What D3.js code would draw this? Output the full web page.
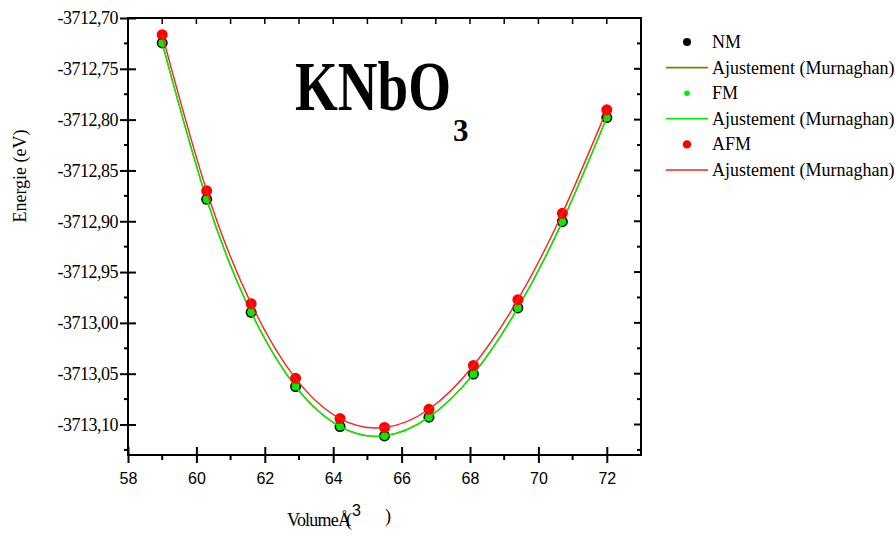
<!DOCTYPE html>
<html lang="fr">
  <head>
    <meta charset="utf-8" />
    <title>KNbO3 - Energie vs Volume</title>
    <script type="text/javascript" src="https://d3js.org/d3.v7.min.js"></script>
    <style>
      body { margin: 0; background: #fff; }
      svg { display: block; }
    </style>
  </head>

  <body>
    <div id="chart"></div>

    <script type="text/javascript">
      const w = 896;
      const h = 536;

      // volumes (A^3)
      const volumes = [59.0, 60.3, 61.6, 62.9, 64.2, 65.5, 66.8, 68.1, 69.4, 70.7, 72.0];
      // energies (eV)
      const nmEnergy = [-3712.7245, -3712.8784, -3712.9896, -3713.0627, -3713.1020, -3713.1112,
        -3713.0928, -3713.0504, -3712.9853, -3712.9004, -3712.7980];
      const fmEnergy = [-3712.7245, -3712.8784, -3712.9896, -3713.0627, -3713.1020, -3713.1112,
        -3713.0928, -3713.0504, -3712.9853, -3712.9004, -3712.7980];
      const afmEnergy = [-3712.7164, -3712.8700, -3712.9811, -3713.0546, -3713.0941, -3713.1029,
        -3713.0850, -3713.0419, -3712.9772, -3712.8922, -3712.7904];

      const xTicks = [58, 60, 62, 64, 66, 68, 70, 72];
      const xMinor = [59, 61, 63, 65, 67, 69, 71];
      const yTicks = [-3712.70, -3712.75, -3712.80, -3712.85, -3712.90, -3712.95,
        -3713.00, -3713.05, -3713.10];
      const yMinor = [-3712.725, -3712.775, -3712.825, -3712.875, -3712.925, -3712.975,
        -3713.025, -3713.075, -3713.125];

      const series = [
        { name: "NM", values: nmEnergy, color: "#000000", line: "#808000", r: 5.5, lr: 4 },
        { name: "FM", values: fmEnergy, color: "#00ee00", line: "#00ee00", r: 4, lr: 2.8 },
        { name: "AFM", values: afmEnergy, color: "#ff0000", line: "#ff2020", r: 5.5, lr: 4.2 },
      ];

      const mLeft = 128, mRight = 641, mTop = 18, mBottom = 455;

      const x = d3.scaleLinear().domain([58, 73]).range([mLeft, mRight]);
      const y = d3.scaleLinear().domain([-3713.13, -3712.70]).range([mBottom, mTop]);

      const svg = d3
        .select("#chart")
        .append("svg")
        .attr("width", w)
        .attr("height", h);

      const fmt = function (d) {
        return d.toFixed(2).replace(".", ",");
      };

      // curves (fits)
      const line = d3
        .line()
        .x(function (d) { return x(d[0]); })
        .y(function (d) { return y(d[1]); })
        .curve(d3.curveNatural);

      // points and curves, in drawing order
      series.forEach(function (s) {
        const pts = volumes.map(function (v, i) { return [v, s.values[i]]; });

        svg
          .append("g")
          .selectAll("circle")
          .data(pts)
          .join("circle")
          .attr("cx", function (d) { return x(d[0]); })
          .attr("cy", function (d) { return y(d[1]); })
          .attr("r", s.r)
          .style("fill", s.color);

        svg
          .append("path")
          .datum(pts)
          .attr("d", line)
          .style("fill", "none")
          .style("stroke", s.line)
          .style("stroke-width", 1.4);
      });

      // left axis
      const yAxis = svg
        .append("g")
        .attr("transform", `translate(${mLeft},0)`)
        .call(d3.axisLeft(y).tickValues(yTicks).tickFormat(fmt).tickSize(8).tickPadding(2));
      yAxis.selectAll(".tick line").attr("x1", 8).style("stroke-width", 2);
      yAxis
        .selectAll("text")
        .style("font-family", "'Liberation Serif', 'Times New Roman', serif")
        .style("font-size", "18px")
        .style("letter-spacing", "-0.5px")
        .style("fill", "#000");
      yAxis.select(".domain").remove();

      // bottom axis
      const xAxis = svg
        .append("g")
        .attr("transform", `translate(0,${mBottom})`)
        .call(d3.axisBottom(x).tickValues(xTicks).tickSize(8).tickPadding(10));
      xAxis.selectAll(".tick line").attr("y1", -8).style("stroke-width", 2);
      xAxis
        .selectAll("text")
        .style("font-family", "'Liberation Sans', Arial, sans-serif")
        .style("font-size", "16px")
        .style("fill", "#000");
      xAxis.select(".domain").remove();

      // minor ticks (outward on left/bottom)
      svg
        .append("g")
        .selectAll("line")
        .data(yMinor)
        .join("line")
        .attr("x1", mLeft - 4)
        .attr("x2", mLeft)
        .attr("y1", function (d) { return y(d); })
        .attr("y2", function (d) { return y(d); })
        .style("stroke", "#000")
        .style("stroke-width", 2);

      svg
        .append("g")
        .selectAll("line")
        .data(xMinor)
        .join("line")
        .attr("x1", function (d) { return x(d); })
        .attr("x2", function (d) { return x(d); })
        .attr("y1", mBottom)
        .attr("y2", mBottom + 5)
        .style("stroke", "#000")
        .style("stroke-width", 2);

      // top ticks (inward, every unit)
      svg
        .append("g")
        .selectAll("line")
        .data(d3.range(59, 73))
        .join("line")
        .attr("x1", function (d) { return x(d); })
        .attr("x2", function (d) { return x(d); })
        .attr("y1", mTop)
        .attr("y2", mTop + 6)
        .style("stroke", "#000")
        .style("stroke-width", 1.5);

      // right ticks (inward)
      svg
        .append("g")
        .selectAll("line")
        .data(yTicks.slice(1).concat(yMinor))
        .join("line")
        .attr("x1", function (d, i) { return mRight - (i < yTicks.length - 1 ? 7 : 4); })
        .attr("x2", mRight)
        .attr("y1", function (d) { return y(d); })
        .attr("y2", function (d) { return y(d); })
        .style("stroke", "#000")
        .style("stroke-width", 2);

      // frame
      svg
        .append("rect")
        .attr("x", mLeft)
        .attr("y", mTop)
        .attr("width", mRight - mLeft)
        .attr("height", mBottom - mTop)
        .style("fill", "none")
        .style("stroke", "#000")
        .style("stroke-width", 2);

      // axis titles
      svg
        .append("text")
        .attr("transform", "translate(26,176) rotate(-90)")
        .attr("text-anchor", "middle")
        .style("font-family", "'Liberation Serif', 'Times New Roman', serif")
        .style("font-size", "18px")
        .text("Energie (eV)");

      const xt = svg
        .append("g")
        .style("font-family", "'Liberation Serif', 'Times New Roman', serif")
        .style("font-size", "18px");
      xt.append("text").attr("x", 287).attr("y", 526).style("letter-spacing", "-0.8px").text("Volume");
      xt.append("text").attr("x", 338).attr("y", 526).text("Å");
      xt.append("text").attr("x", 346).attr("y", 526).text("(");
      xt.append("text")
        .attr("x", 352)
        .attr("y", 516)
        .style("font-family", "'Liberation Sans', Arial, sans-serif")
        .style("font-size", "16px")
        .text("3");
      xt.append("text").attr("x", 385).attr("y", 522).text(")");

      // title
      const title = svg
        .append("g")
        .style("font-family", "'Liberation Serif', 'Times New Roman', serif")
        .style("font-weight", "bold")
        .style("fill", "#000");
      title
        .append("text")
        .attr("x", 295)
        .attr("y", 110)
        .attr("textLength", 156)
        .attr("lengthAdjust", "spacingAndGlyphs")
        .style("font-size", "70px")
        .text("KNbO");
      title
        .append("text")
        .attr("x", 453)
        .attr("y", 141)
        .style("font-size", "31px")
        .text("3");

      // legend
      const legend = svg.append("g");
      const rowH = 25.6;
      series.forEach(function (s, i) {
        const y0 = 42 + i * 2 * rowH;
        legend
          .append("circle")
          .attr("cx", 687)
          .attr("cy", y0)
          .attr("r", s.lr)
          .style("fill", s.color);
        legend
          .append("text")
          .attr("x", 712)
          .attr("y", y0 + 6)
          .style("font-family", "'Liberation Serif', 'Times New Roman', serif")
          .style("font-size", "18px")
          .text(s.name);
        legend
          .append("line")
          .attr("x1", 666)
          .attr("x2", 708)
          .attr("y1", y0 + rowH)
          .attr("y2", y0 + rowH)
          .style("stroke", s.line)
          .style("stroke-width", 1.6);
        legend
          .append("text")
          .attr("x", 712)
          .attr("y", y0 + rowH + 6)
          .style("font-family", "'Liberation Serif', 'Times New Roman', serif")
          .style("font-size", "18px")
          .text("Ajustement (Murnaghan)");
      });
    </script>
  </body>
</html>
